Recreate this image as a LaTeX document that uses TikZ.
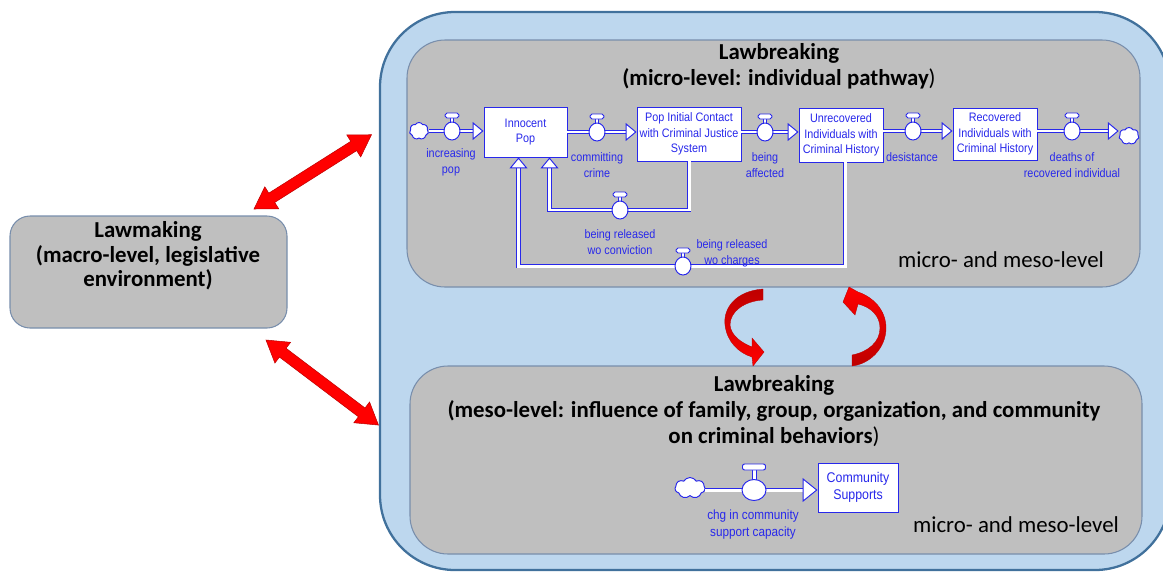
\documentclass[tikz,border=0pt]{standalone}
\usepackage{fontspec}
\setmainfont{Carlito}
\newfontfamily\flowfont[FakeStretch=0.88]{Liberation Sans}
\usetikzlibrary{arrows.meta,shapes.symbols}
\newlength{\upx}
\setlength{\upx}{0.02cm}
\definecolor{outerfill}{RGB}{189,215,238}
\definecolor{outerline}{RGB}{65,113,156}
\definecolor{panelfill}{RGB}{191,191,191}
\definecolor{panelline}{RGB}{120,142,172}
\definecolor{vblue}{RGB}{40,40,235}
\definecolor{darkred}{RGB}{190,0,0}
\begin{document}
\begin{tikzpicture}[x=0.02cm,y=-0.02cm,
  panel/.style={fill=panelfill, draw=panelline, line width=0.6pt},
  title/.style={font=\bfseries\fontsize{13}{15}\selectfont, align=center, inner sep=0pt},
  levelnote/.style={font=\fontsize{13}{15}\selectfont, inner sep=0pt},
  stock/.style={draw=vblue, fill=white, line width=0.55pt, text=vblue, align=center,
    inner sep=0pt, font=\flowfont\fontsize{7}{9}\selectfont},
  flowlabel/.style={text=vblue, align=center, inner sep=0pt, font=\flowfont\fontsize{7}{9}\selectfont},
  biglabel/.style={font=\flowfont\fontsize{7.6}{9.2}\selectfont},
  sourcecloud/.style={cloud, cloud puffs=7, cloud puff arc=120, aspect=1.1, draw=vblue,
    fill=white, line width=0.55pt, inner sep=0pt},
  pipe/.style={draw=vblue, line width=0.55pt, double=white, double distance=1.7pt},
  flowtip/.style={-{Triangle[length=6.2pt, width=10.2pt, fill=white, line width=0.55pt]}},
  bigflowtip/.style={-{Triangle[length=8.5pt, width=13.6pt, fill=white, line width=0.55pt]}},
  valvepart/.style={draw=vblue, fill=white, line width=0.55pt},
  redfill/.style={fill=red, draw=darkred, line width=0.3pt},
  smallvalve/.pic={
    \path[valvepart] (-1.6,-8) rectangle (1.6,-13.5);
    \path[valvepart] (0,0) ellipse [x radius=8, y radius=9];
    \path[valvepart, rounded corners=1pt] (-6.8,-13) rectangle (6.8,-18);
  },
  bigvalve/.pic={
    \path[valvepart] (-2,-9) rectangle (2,-20.5);
    \path[valvepart] (0,0) ellipse [x radius=12, y radius=10.5];
    \path[valvepart, rounded corners=1.2pt] (-11.5,-20) rectangle (11.5,-26);
  },
  pics/twoway/.style={code={
    \path[redfill] (0,0) -- (21,13) -- (21,5.5) -- (#1-21,5.5) -- (#1-21,13) -- (#1,0)
      -- (#1-21,-13) -- (#1-21,-5.5) -- (21,-5.5) -- (21,-13) -- cycle;
  }},
]
\useasboundingbox (0,0) rectangle (1163,572);
\clip (0,0) rectangle (1163,572);

% outer container
\path[fill=outerfill, draw=outerline, line width=1.3pt, rounded corners=75\upx]
  (380,12) rectangle (1170,570);

% panels
\node[panel, rounded corners=38\upx, minimum width=733\upx, minimum height=247\upx]
  (micro) at (773.5,163.5) {};
\node[panel, rounded corners=38\upx, minimum width=732\upx, minimum height=188\upx]
  (meso) at (776,460) {};
\node[panel, rounded corners=20\upx, minimum width=277\upx, minimum height=112\upx]
  (lawmaking) at (148.5,272) {};

% titles
\node[title] (microtitle) at (779,66)
  {Lawbreaking\\(micro-level: individual pathway{\mdseries)}};
\node[title] (mesotitle) at (774,411)
  {Lawbreaking\\(meso-level: influence of family, group, organization, and community\\on criminal behaviors{\mdseries)}};
\node[title, font=\bfseries\fontsize{13}{13.9}\selectfont] (lawmakingtext) at (148,256)
  {Lawmaking\\(macro-level, legislative\\environment)};
\node[levelnote] (micronote) at (1001,260) {micro- and meso-level};
\node[levelnote] (mesonote) at (1016,525) {micro- and meso-level};

% two-way links between lawmaking and lawbreaking
\pic[rotate=32.3] at (254,209) {twoway=139};
\pic[rotate=-37.1] at (266,340) {twoway=141};

% feedback between the two lawbreaking levels
\path[top color=darkred, middle color=red, bottom color=red, draw=darkred, line width=0.2pt]
  (763,289) .. controls (736,291) and (723,308) .. (725,325)
  .. controls (727,342) and (739,353) .. (752,357)
  -- (753,366) -- (764,352) -- (752,338) -- (752,347)
  .. controls (742,343) and (731,336) .. (730,325)
  .. controls (730,311) and (745,301) .. (763,300) -- cycle;
\path[top color=red, middle color=red, bottom color=darkred, draw=darkred, line width=0.2pt]
  (852,366) .. controls (870,364) and (886,348) .. (886,328)
  .. controls (886,310) and (873,297) .. (858,292)
  -- (849,287) -- (843,302) -- (855,315) -- (858,304)
  .. controls (871,307) and (880,316) .. (880,328)
  .. controls (880,342) and (868,352) .. (852,355) -- cycle;

% stocks of the individual pathway
\node[stock, minimum width=83\upx, minimum height=50\upx] (innocent) at (525.5,132)
  {Innocent\\Pop};
\node[stock, minimum width=104\upx, minimum height=54\upx] (contact) at (689,134)
  {Pop Initial Contact\\with Criminal Justice\\System};
\node[stock, minimum width=84\upx, minimum height=54\upx] (unrec) at (841,135)
  {Unrecovered\\Individuals with\\Criminal History};
\node[stock, minimum width=84\upx, minimum height=52\upx] (recov) at (995,134)
  {Recovered\\Individuals with\\Criminal History};
\node[stock, font=\flowfont\fontsize{8}{9.6}\selectfont, minimum width=80\upx,
  minimum height=49\upx] (community) at (858,487.5) {Community\\Supports};

% sources and sinks
\node[sourcecloud, minimum width=19\upx, minimum height=17\upx] (srcA) at (419,131) {};
\node[sourcecloud, minimum width=20\upx, minimum height=17\upx] (sinkA) at (1129,136) {};
\node[sourcecloud, minimum width=30\upx, minimum height=21\upx] (srcB) at (690,488) {};

% valve positions
\coordinate (v1) at (452,131);
\coordinate (v2) at (597,132);
\coordinate (v3) at (765,132);
\coordinate (v4) at (913,131);
\coordinate (v5) at (1072,131);
\coordinate (v6) at (620,210);
\coordinate (v7) at (683,266);
\coordinate (v8) at (754,490);

% flow pipes
\draw[pipe, flowtip] (srcA.east |- v1) -- (v1) -- (innocent.west |- v1);
\draw[pipe, flowtip] (innocent.east |- v2) -- (v2) -- (contact.west |- v2);
\draw[pipe, flowtip] (contact.east |- v3) -- (v3) -- (unrec.west |- v3);
\draw[pipe, flowtip] (unrec.east |- v4) -- (v4) -- (recov.west |- v4);
\draw[pipe, flowtip] (recov.east |- v5) -- (v5) -- (sinkA.west |- v5);
\draw[pipe, flowtip] (contact.south) |- (v6) -| ([xshift=24\upx]innocent.south);
\draw[pipe, flowtip] ([xshift=4\upx]unrec.south) |- (v7) -| ([xshift=-7\upx]innocent.south);
\draw[pipe, bigflowtip] (srcB.east |- v8) -- (v8) -- (community.west |- v8);

% valves
\pic at (v1) {smallvalve};
\pic at (v2) {smallvalve};
\pic at (v3) {smallvalve};
\pic at (v4) {smallvalve};
\pic at (v5) {smallvalve};
\pic at (v6) {smallvalve};
\pic at (v7) {smallvalve};
\pic at (v8) {bigvalve};

% flow names
\node[flowlabel] (l1) at (451,162.5) {increasing\\pop};
\node[flowlabel] (l2) at (597,165) {committing\\crime};
\node[flowlabel] (l3) at (765,165) {being\\affected};
\node[flowlabel] (l4) at (912,157.5) {desistance};
\node[flowlabel] (l5) at (1072,165.5) {deaths of\\recovered individual};
\node[flowlabel] (l6) at (620,242) {being released\\wo conviction};
\node[flowlabel] (l7) at (732,253) {being released\\wo charges};
\node[flowlabel, biglabel] (l8) at (753,524.5) {chg in community\\support capacity};
\end{tikzpicture}
\end{document}
